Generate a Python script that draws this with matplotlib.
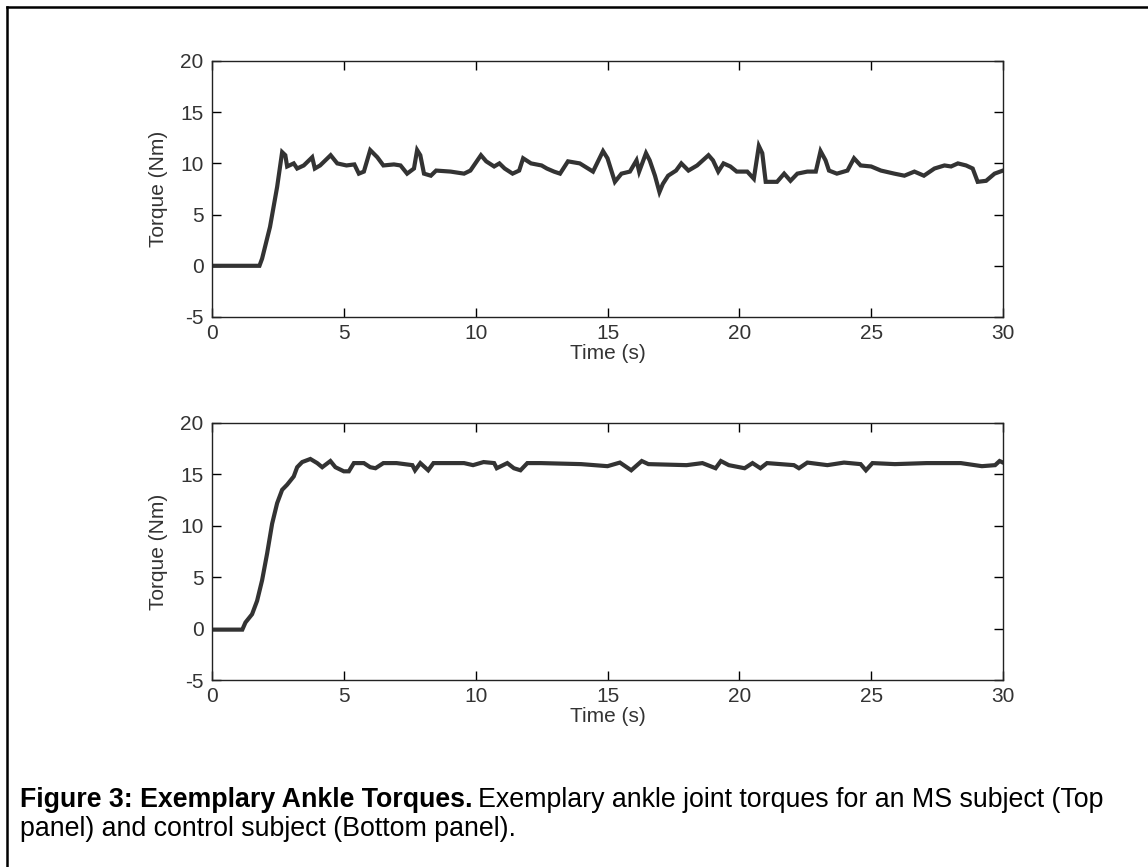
import matplotlib
matplotlib.use('Agg')
import matplotlib.pyplot as plt
from matplotlib.lines import Line2D

plt.rcParams['axes.unicode_minus'] = False

# MS subject (top panel)
t_ms = [0, 1.8, 1.9, 2.2, 2.47, 2.66, 2.78, 2.85, 3.1, 3.23, 3.48, 3.8, 3.9, 4.1, 4.5, 4.75,
        5.1, 5.4, 5.57, 5.76, 6.0, 6.27, 6.5, 6.9, 7.15, 7.4, 7.66, 7.78, 7.9, 8.04, 8.3,
        8.5, 9.05, 9.56, 9.8, 10.2, 10.4, 10.7, 10.9, 11.1, 11.4, 11.65, 11.8, 12.1, 12.5,
        12.7, 12.97, 13.2, 13.5, 13.95, 14.45, 14.83, 15.0, 15.28, 15.53, 15.85, 16.1, 16.2,
        16.46, 16.6, 16.8, 16.97, 17.1, 17.3, 17.6, 17.8, 18.07, 18.4, 18.83, 19.0, 19.2,
        19.4, 19.66, 19.9, 20.3, 20.55, 20.74, 20.87, 21.0, 21.43, 21.7, 21.94, 22.2, 22.58,
        22.9, 23.08, 23.27, 23.4, 23.7, 24.1, 24.35, 24.6, 25.0, 25.37, 25.88, 26.26, 26.64,
        27.0, 27.4, 27.78, 28.03, 28.29, 28.6, 28.85, 29.04, 29.36, 29.68, 30.0]
torque_ms = [0, 0, 0.7, 3.8, 7.7, 11.1, 10.8, 9.7, 10.0, 9.5, 9.8, 10.6, 9.5, 9.8, 10.8, 10.0,
             9.8, 9.9, 9.0, 9.2, 11.3, 10.6, 9.8, 9.9, 9.8, 9.0, 9.5, 11.3, 10.8, 9.0, 8.8,
             9.3, 9.2, 9.0, 9.3, 10.8, 10.2, 9.7, 10.0, 9.5, 9.0, 9.3, 10.5, 10.0, 9.8,
             9.5, 9.2, 9.0, 10.2, 10.0, 9.2, 11.2, 10.5, 8.2, 9.0, 9.2, 10.3, 9.2,
             11.0, 10.3, 8.8, 7.2, 8.0, 8.8, 9.3, 10.0, 9.3, 9.8, 10.8, 10.3, 9.2,
             10.0, 9.7, 9.2, 9.2, 8.5, 11.7, 11.0, 8.2, 8.2, 9.0, 8.3, 9.0, 9.2,
             9.2, 11.2, 10.3, 9.3, 9.0, 9.3, 10.5, 9.8, 9.7, 9.3, 9.0, 8.8, 9.2,
             8.8, 9.5, 9.8, 9.7, 10.0, 9.8, 9.5, 8.2, 8.3, 9.0, 9.3]

# control subject (bottom panel)
t_ctl = [0, 1.15, 1.27, 1.52, 1.71, 1.9, 2.09, 2.28, 2.47, 2.66, 2.85, 3.1, 3.23, 3.42, 3.73,
         3.99, 4.18, 4.49, 4.68, 5.0, 5.19, 5.38, 5.76, 6.0, 6.2, 6.5, 7.0, 7.6, 7.7, 7.9,
         8.2, 8.4, 9.56, 9.9, 10.3, 10.7, 10.8, 11.2, 11.45, 11.7, 11.96, 12.47, 14.0,
         15.0, 15.47, 15.9, 16.3, 16.55, 18.0, 18.6, 19.1, 19.3, 19.6, 20.2, 20.5, 20.8,
         21.05, 22.07, 22.26, 22.58, 23.34, 23.97, 24.6, 24.8, 25.05, 25.9, 27.1, 28.4,
         29.2, 29.7, 29.87, 30.0]
torque_ctl = [-0.1, -0.1, 0.6, 1.4, 2.7, 4.7, 7.3, 10.2, 12.2, 13.5, 14.0, 14.8, 15.7, 16.2, 16.5,
              16.1, 15.7, 16.3, 15.7, 15.3, 15.3, 16.1, 16.1, 15.7, 15.6, 16.1, 16.1, 15.9, 15.4, 16.1,
              15.4, 16.1, 16.1, 15.9, 16.2, 16.1, 15.6, 16.1, 15.6, 15.4, 16.1, 16.1, 16.0,
              15.8, 16.15, 15.4, 16.3, 16.0, 15.9, 16.1, 15.6, 16.3, 15.9, 15.6, 16.1, 15.6,
              16.1, 15.9, 15.6, 16.15, 15.9, 16.15, 16.0, 15.4, 16.1, 16.0, 16.1, 16.1,
              15.8, 15.9, 16.3, 16.15]

x_ticks = [0, 5, 10, 15, 20, 25, 30]
y_ticks = [-5, 0, 5, 10, 15, 20]

W, H = 1148, 867
fig = plt.figure(figsize=(W / 100, H / 100), dpi=100)

txt_col = '#333333'
tick_font = 'Liberation Sans'

def panel(rect, t, v):
    ax = fig.add_axes(rect)
    ax.plot(t, v, color='#333333', lw=3, solid_joinstyle='miter')
    ax.set_xlim(0, 30)
    ax.set_ylim(-5, 20)
    ax.set_xticks(x_ticks)
    ax.set_yticks(y_ticks)
    ax.tick_params(direction='in', length=6.5, width=1, top=True, right=True,
                   labelsize=15, labelcolor=txt_col)
    ax.tick_params(axis='y', pad=6)
    ax.tick_params(axis='x', pad=5)
    for lab in ax.get_xticklabels() + ax.get_yticklabels():
        lab.set_fontfamily(tick_font)
    for s in ax.spines.values():
        s.set_linewidth(1)
        s.set_color('#222222')
    ax.set_xlabel('Time (s)', fontsize=15, color=txt_col, family=tick_font, labelpad=1)
    ax.set_ylabel('Torque (Nm)', fontsize=15, color=txt_col, family=tick_font, labelpad=9)
    return ax

l, r = 212 / W, 1003 / W
panel([l, 1 - 317 / H, r - l, (317 - 61) / H], t_ms, torque_ms)
panel([l, 1 - 680 / H, r - l, (680 - 423) / H], t_ctl, torque_ctl)

# border (left and top edges)
fig.add_artist(Line2D([7 / W, 7 / W], [0, 1 - 7 / H], transform=fig.transFigure, color='black', lw=1.8))
fig.add_artist(Line2D([7 / W, 1], [1 - 7 / H, 1 - 7 / H], transform=fig.transFigure, color='black', lw=1.8))

# caption
cap_size = 19.3
bold = fig.text(20 / W, 1 - 807 / H, 'Figure 3: Exemplary Ankle Torques.', fontsize=cap_size,
                fontweight='bold', family='Liberation Sans', va='baseline', ha='left')
fig.canvas.draw()
bb = bold.get_window_extent(fig.canvas.get_renderer())
fig.text(bb.x1 / W + 6 / W, 1 - 807 / H,
         'Exemplary ankle joint torques for an MS subject (Top', fontsize=cap_size,
         family='Liberation Sans', va='baseline', ha='left')
fig.text(20 / W, 1 - 836 / H, 'panel) and control subject (Bottom panel).', fontsize=cap_size,
         family='Liberation Sans', va='baseline', ha='left')

fig.savefig('out.png', dpi=100)
